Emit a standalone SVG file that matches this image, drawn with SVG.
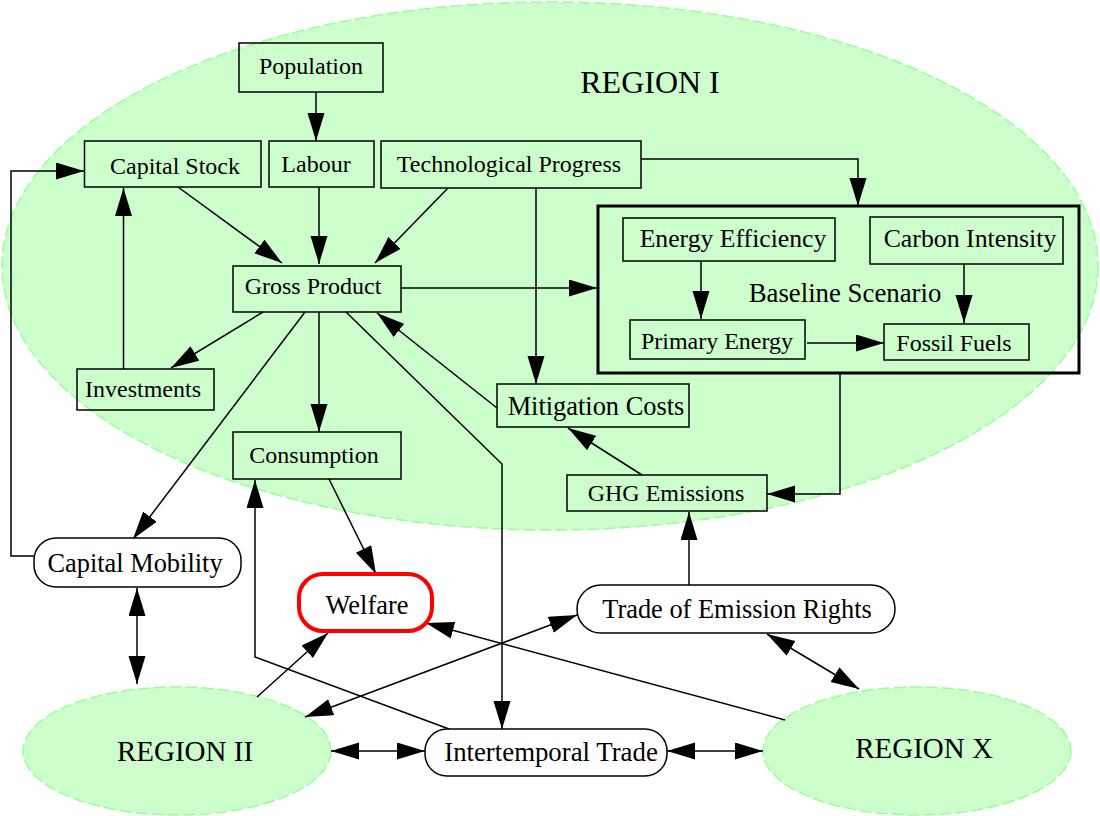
<svg xmlns="http://www.w3.org/2000/svg" width="1100" height="816" viewBox="0 0 1100 816">
<defs>
<marker id="ah" markerUnits="userSpaceOnUse" markerWidth="30" markerHeight="18" refX="28" refY="8.5" orient="auto-start-reverse" viewBox="0 0 30 18">
<path d="M0,0 L28,8.5 L0,17 z" fill="#000"/>
</marker>
<style>
.region{fill:#ccffcc;stroke:#99ff99;stroke-width:1.5;stroke-dasharray:12,4}
.box{fill:none;stroke:#000;stroke-width:1.5}
.rbox{fill:#fff;stroke:#000;stroke-width:1.5}
text{font-family:'Liberation Serif','Times New Roman',Tinos,Times,'DejaVu Serif',serif;font-size:24px;fill:#000;text-anchor:middle}
.big{font-size:29px}
.m{font-size:26.4px}
.e{fill:none;stroke:#000;stroke-width:1.5}
.a{marker-end:url(#ah)}
.d{marker-start:url(#ah);marker-end:url(#ah)}
</style>
</defs>
<rect width="1100" height="816" fill="#fff"/>
<g id="region1">
<ellipse class="region" cx="550" cy="266" rx="548" ry="264"/>
<text x="650" y="93" style="font-size:32px">REGION I</text>
</g>
<g id="region2">
<ellipse class="region" cx="177" cy="751" rx="154" ry="64"/>
<text class="big" x="185" y="761">REGION II</text>
</g>
<g id="regionx">
<ellipse class="region" cx="917" cy="751" rx="154" ry="64"/>
<text class="big" x="924" y="758">REGION X</text>
</g>
<g id="connectors">
<path class="e a" d="M316,92 L316,141"/>
<path class="e a" d="M178,187 L282,263"/>
<path class="e a" d="M319,187 L319,264"/>
<path class="e a" d="M448,188 L375,263"/>
<path class="e a" d="M641,159 L858,159 L858,206"/>
<path class="e a" d="M401,288 L597,288"/>
<path class="e a" d="M536,188 L536,384"/>
<path class="e a" d="M497,408 L377,313"/>
<path class="e a" d="M701,261 L701,319"/>
<path class="e a" d="M964,264 L964,323"/>
<path class="e a" d="M807,343 L884,343"/>
<path class="e a" d="M840,373 L840,494 L767,494"/>
<path class="e a" d="M642,475 L568,428"/>
<path class="e a" d="M689,585 L689,512"/>
<path class="e a" d="M263,312 L171,368"/>
<path class="e a" d="M123.5,369 L123.5,188"/>
<path class="e a" d="M319,312 L319,432"/>
<path class="e a" d="M305,312 L133,539"/>
<path class="e a" d="M34,556 L11,556 L11,171 L84,171"/>
<path class="e a" d="M329,479 L376,574"/>
<path class="e a" d="M346,312 L502,464 L502,729"/>
<path class="e a" d="M449,729 L255,657 L255,480"/>
<path class="e d" d="M137,588 L137,684"/>
<path class="e a" d="M257,697 L328,633"/>
<path class="e d" d="M577,615 L305,717"/>
<path class="e a" d="M785,720 L426,623"/>
<path class="e d" d="M767,634 L859,689"/>
<path class="e d" d="M331,751 L425,751"/>
<path class="e d" d="M667,751 L763,751"/>
</g>
<g id="population"><rect class="box" x="239" y="43" width="144" height="49"/><text x="311" y="74">Population</text></g>
<g id="capitalstock"><rect class="box" x="84.5" y="141" width="176.5" height="46"/><text x="175" y="174">Capital Stock</text></g>
<g id="labour"><rect class="box" x="269" y="141" width="105" height="46"/><text x="316" y="172">Labour</text></g>
<g id="techprogress"><rect class="box" x="381" y="141" width="260" height="47"/><text x="509" y="172">Technological Progress</text></g>
<g id="baseline"><rect x="598" y="206" width="481" height="167" fill="none" stroke="#000" stroke-width="3"/><text x="845" y="302" style="font-size:26.8px">Baseline Scenario</text></g>
<g id="energyefficiency"><rect class="box" x="623" y="218" width="212" height="43"/><text x="733" y="247" style="font-size:25.7px">Energy Efficiency</text></g>
<g id="carbonintensity"><rect class="box" x="870" y="217" width="193" height="47"/><text x="970" y="247" style="font-size:25.8px">Carbon Intensity</text></g>
<g id="primaryenergy"><rect class="box" x="630" y="320" width="175" height="39"/><text x="717" y="349">Primary Energy</text></g>
<g id="fossilfuels"><rect class="box" x="884" y="324" width="145" height="36"/><text x="954" y="351">Fossil Fuels</text></g>
<g id="grossproduct"><rect class="box" x="233" y="266" width="168" height="46"/><text x="313" y="294">Gross Product</text></g>
<g id="investments"><rect class="box" x="77" y="369" width="137" height="41"/><text x="143" y="397">Investments</text></g>
<g id="consumption"><rect class="box" x="233" y="432" width="168" height="47"/><text x="314" y="463">Consumption</text></g>
<g id="mitigationcosts"><rect class="box" x="497" y="384" width="192" height="43"/><text class="m" x="596" y="415">Mitigation Costs</text></g>
<g id="ghgemissions"><rect class="box" x="567" y="475" width="200" height="36"/><text x="666" y="501">GHG Emissions</text></g>
<g id="capitalmobility"><rect class="rbox" x="34" y="538" width="207" height="49" rx="22" ry="22"/><text class="m" x="135" y="572">Capital Mobility</text></g>
<g id="welfare"><rect x="299" y="574" width="133" height="57" rx="24" ry="24" fill="#fff" stroke="#ff0000" stroke-width="4"/><text class="m" x="367" y="614">Welfare</text></g>
<g id="traderights"><rect class="rbox" x="577" y="585" width="318" height="48" rx="24" ry="24"/><text class="m" x="737" y="618">Trade of Emission Rights</text></g>
<g id="intertemporal"><rect class="rbox" x="425" y="729" width="242" height="47" rx="22" ry="22"/><text x="551" y="761" style="font-size:26.8px">Intertemporal Trade</text></g>
</svg>
